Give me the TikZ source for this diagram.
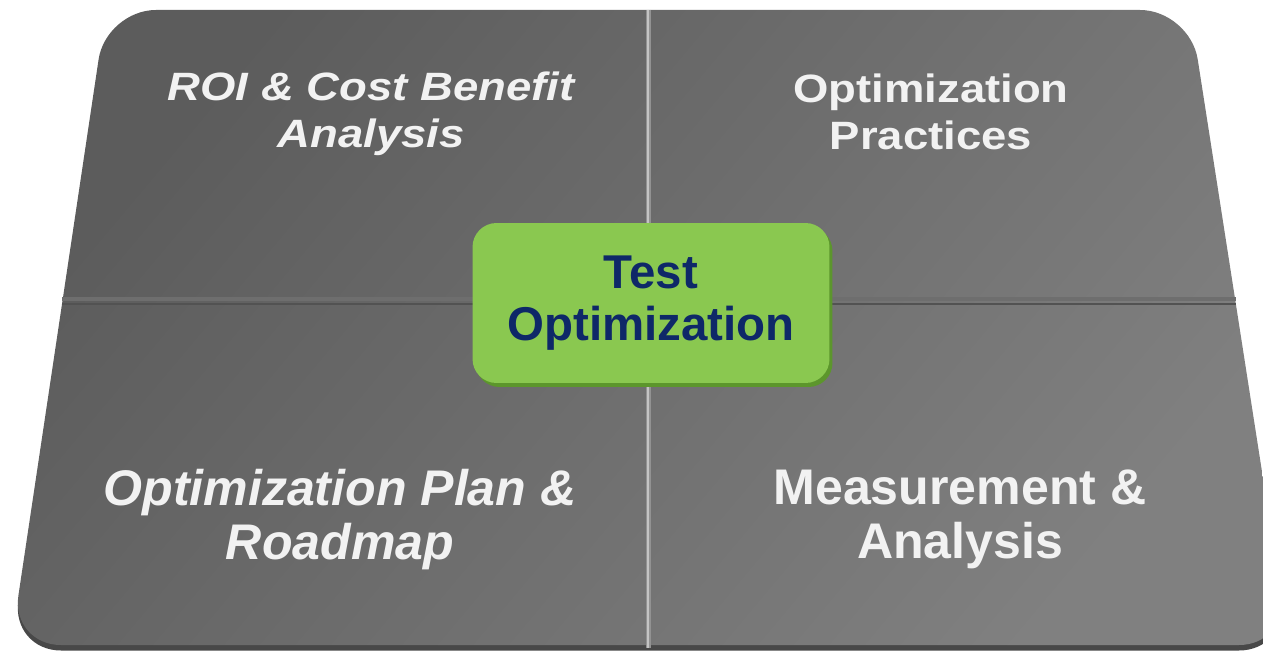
\documentclass[tikz,border=0pt]{standalone}
\usepackage{fontspec}
\setmainfont{Liberation Sans}
\newfontfamily\wideface[FakeStretch=1.15]{Liberation Sans}
\usetikzlibrary{shadows}

\definecolor{slabdark}{RGB}{92,92,92}
\definecolor{slablight}{RGB}{128,128,128}
\definecolor{slabrim}{RGB}{72,72,72}
\definecolor{seamlight}{RGB}{146,146,146}
\definecolor{seamshine}{RGB}{196,196,196}
\definecolor{seamdark}{RGB}{82,82,82}
\definecolor{seamsoft}{RGB}{110,110,110}
\definecolor{boxgreen}{RGB}{138,200,80}
\definecolor{boxrim}{RGB}{92,150,44}
\definecolor{boxtext}{RGB}{14,40,104}
\definecolor{labelwhite}{RGB}{242,242,242}

\begin{document}
\begin{tikzpicture}[x=0.02cm, y=-0.02cm,
  top label/.style={text=labelwhite, align=center,
    font=\wideface\fontsize{22.5}{26.7}\selectfont\bfseries},
  bottom label/.style={text=labelwhite, align=center,
    font=\fontsize{28.5}{30.7}\selectfont\bfseries},
  hub/.style={fill=boxgreen, rounded corners=0.48cm, minimum width=7.14cm,
    minimum height=3.2cm, text=boxtext, align=center,
    font=\fontsize{27}{30}\selectfont\bfseries,
    general shadow={shadow xshift=0.06cm, shadow yshift=-0.08cm, fill=boxrim}}]

  \path [use as bounding box, clip] (0,0) rectangle (1263,658);

  % slab, its rim first
  \fill [slabrim, rounded corners=1cm, yshift=-0.11cm]
    (640,10) -- (1190,10) -- (1289,645) -- (11,645) -- (106,10) -- cycle;
  \shade [left color=slabdark, right color=slablight, shading angle=50, rounded corners=1cm]
    (640,10) -- (1190,10) -- (1289,645) -- (11,645) -- (106,10) -- cycle;

  % seams
  \foreach \xa/\xb in {62/646, 650/1236} {
    \draw [seamsoft, line width=0.08cm] (\xa,299) -- (\xb,299);
    \draw [seamdark, line width=0.06cm] (\xa,304) -- (\xb,304);
  }
  \draw [seamlight, line width=0.1cm] (648,10) -- (648,648);
  \draw [seamshine, line width=0.03cm] (648,10) -- (648,648);

  \node [hub] (hub) at (651,303) {Test\\Optimization};

  \node [top label] (roi) at (371,114) {\itshape ROI \& Cost Benefit\\\itshape Analysis};
  \node [top label] (practices) at (931,112) {Optimization\\Practices};
  \node [bottom label] (plan) at (340,520) {\itshape Optimization Plan \&\\\itshape Roadmap};
  \node [bottom label] (measure) at (960,519) {Measurement \&\\Analysis};

\end{tikzpicture}
\end{document}
